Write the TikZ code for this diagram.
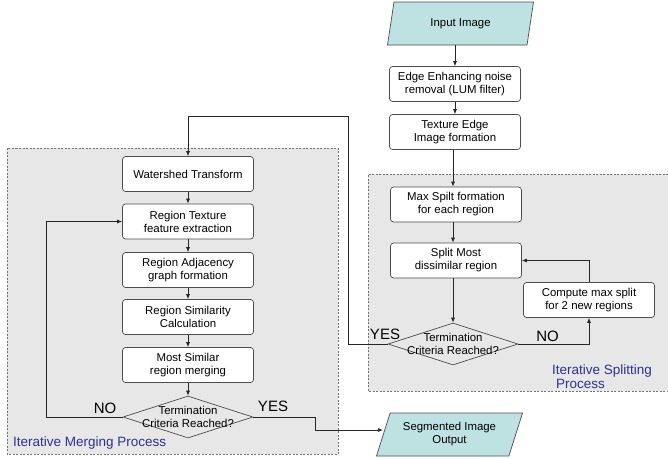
\documentclass[tikz,border=0pt]{standalone}
\usepackage{fontspec}
\setmainfont{Liberation Sans}
\usetikzlibrary{shapes.geometric,arrows.meta}
\definecolor{iofill}{HTML}{BEE2E2}
\definecolor{regionfill}{HTML}{E7E7E7}
\definecolor{regiontext}{HTML}{2E3192}
\tikzset{
  box/.style={draw=black!70,fill=white,rounded corners=3pt,line width=0.7pt,minimum width=131pt,minimum height=35pt,align=center,inner sep=1pt,font=\fontsize{11.4}{13}\selectfont},
  iobox/.style={draw=black!70,fill=iofill,line width=0.7pt,trapezium,trapezium left angle=62,trapezium right angle=118,trapezium stretches body,minimum width=146pt,minimum height=43pt,align=center,inner sep=1pt,font=\fontsize{11.4}{13}\selectfont},
  decision/.style={draw=black!70,line width=0.7pt,diamond,minimum width=130pt,minimum height=42pt,inner sep=0pt},
  flow/.style={draw=black!85,line width=0.7pt,-{Latex[length=5pt,width=4pt]}},
  region/.style={draw=black!55,line width=0.7pt,dash pattern=on 2pt off 1.5pt},
  yesno/.style={inner sep=0pt,font=\fontsize{15}{18}\selectfont},
  regionlabel/.style={anchor=base west,inner sep=0pt,text=regiontext,align=left,font=\fontsize{13.5}{14.5}\selectfont}
}
\begin{document}
\begin{tikzpicture}[x=1pt,y=-1pt]
\useasboundingbox (0,0) rectangle (668,458);
% regions
\fill[regionfill] (7,148) rectangle (338,454);
\draw[region] (7,148) rectangle (338,454);
\fill[regionfill] (368,174) rectangle (668,391);
\draw[region] (668,174) -- (368,174) -- (368,391) -- (668,391);
% splitting side
\node[iobox] (in) at (460.5,23.5) {Input Image};
\node[box] (edge) at (455,84) {Edge Enhancing noise\\removal (LUM filter)};
\node[box] (tex) at (455,132) {Texture Edge\\Image formation};
\node[box] (maxs) at (456,204.5) {Max Spilt formation\\for each region};
\node[box] (smost) at (456,260.5) {Split Most\\dissimilar region};
\node[box] (comp) at (589,300) {Compute max split\\for 2 new regions};
\node[decision,label={[align=center,font=\fontsize{11.4}{13}\selectfont]center:Termination\\Criteria Reached?}] (dsplit) at (453,344) {};
% merging side
\foreach \n/\y/\t in {ws/174/Watershed Transform,rt/221.5/{Region Texture\\feature extraction},ra/270/{Region Adjacency\\graph formation},rs/317/{Region Similarity\\Calculation},ms/365/{Most Similar\\region merging}}
  \node[box] (\n) at (188,\y) {\t};
\node[decision,label={[align=center,font=\fontsize{11.4}{13}\selectfont]center:Termination\\Criteria Reached?}] (dmerge) at (188,417) {};
\node[iobox] (out) at (449.5,434.5) {Segmented Image\\Output};
% turn points
\coordinate (yesup) at (348,116);
\coordinate (noback) at (46,417);
\coordinate (yesdown) at (315,430);
% connectors
\draw[flow] (in.south -| edge.north) -- (edge.north);
\draw[flow] (edge) -- (tex);
\draw[flow] (tex.south -| dsplit) -- (maxs.north -| dsplit);
\draw[flow] (maxs.south -| dsplit) -- (smost.north -| dsplit);
\draw[flow] (smost.south -| dsplit) -- (dsplit.north);
\draw[flow] (dsplit.east) -| (comp.south);
\draw[flow] (comp.north) |- (smost.east);
\draw[flow] (dsplit.west) -| (yesup) -| (ws.north);
\foreach \a/\b in {ws/rt,rt/ra,ra/rs,rs/ms,ms/dmerge}
  \draw[flow] (\a) -- (\b);
\draw[flow] (dmerge.west) -- (noback) |- (rt.west);
\draw[flow] (dmerge.east) -| (yesdown) -- (yesdown -| out.west);
% labels
\node[yesno] (yessplit) at (385,334) {YES};
\node[yesno] (nosplit) at (547.5,336.5) {NO};
\node[yesno] (nomerge) at (105,408.5) {NO};
\node[yesno] (yesmerge) at (273,406.5) {YES};
\node[regionlabel] (mergelabel) at (13,446.5) {Iterative Merging Process};
\node[regionlabel] (splitlabel) at (552,388.5) {Iterative Splitting\\\hspace*{4pt}Process};
\end{tikzpicture}
\end{document}
